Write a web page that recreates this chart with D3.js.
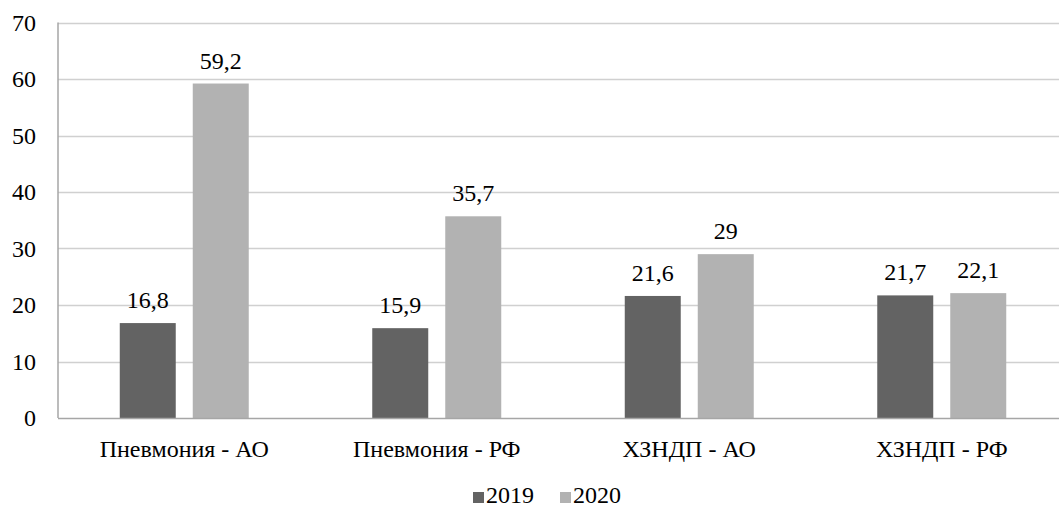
<!DOCTYPE html>
<html><head><meta charset="utf-8">
<script src="https://cdn.jsdelivr.net/npm/d3@7"></script>
<style>body{margin:0;background:#fff}svg{display:block}svg text{font-family:"Liberation Serif","Tinos","Times New Roman",Times !important}</style>
</head><body><svg id="c" width="1059" height="508"></svg>
<script>
const categories = ["Пневмония - АО","Пневмония - РФ","ХЗНДП - АО","ХЗНДП - РФ"];
const seriesNames = ["2019","2020"];
const values2019 = [16.8,15.9,21.6,21.7];
const values2020 = [59.2,35.7,29,22.1];
const yTicks = [0,10,20,30,40,50,60,70];
const colors = ["#636363","#b2b2b2"];

(function(){
const svg = d3.select("#c");
const fs = 24;
const ff = "'Liberation Serif', 'Tinos', 'Times New Roman', Times";
function txt(sel){ return sel.attr("font-family", ff).style("font-family", ff).attr("font-size", fs).attr("fill", "#000"); }
const mLeft = 58, mTop = 22.5, mBottom = 418, mRight = 1068;
const x = d3.scaleBand().domain(categories).range([mLeft, mRight]);
const y = d3.scaleLinear().domain([0,70]).range([mBottom, mTop]);
const x1 = d3.scaleBand().domain(seriesNames).range([0, x.bandwidth()]).paddingInner(0.233).paddingOuter(0.846);

svg.append("g").selectAll("line").data(yTicks.filter(d=>d>0)).join("line")
  .attr("x1", mLeft).attr("x2", 1059).attr("y1", d=>Math.round(y(d))+0.5).attr("y2", d=>Math.round(y(d))+0.5)
  .attr("stroke","#d0d0d0").attr("stroke-width",1.5);

const data = [values2019, values2020];
seriesNames.forEach((s,i)=>{
  const g = svg.append("g");
  g.selectAll("rect").data(categories).join("rect")
    .attr("x", c=>x(c)+x1(s)).attr("width", x1.bandwidth())
    .attr("y", (c,j)=>y(data[i][j])).attr("height",(c,j)=>mBottom-y(data[i][j]))
    .attr("fill", colors[i]);
  txt(g.selectAll("text").data(categories).join("text"))
    .attr("x", c=>x(c)+x1(s)+x1.bandwidth()/2).attr("y",(c,j)=>y(data[i][j])-15)
    .attr("text-anchor","middle")
    .text((c,j)=>String(data[i][j]).replace(".",","));
});

svg.append("line").attr("x1",mLeft).attr("x2",mLeft).attr("y1",mTop).attr("y2",mBottom).attr("stroke","#a6a6a6").attr("stroke-width",1.5);
svg.append("line").attr("x1",mLeft).attr("x2",1059).attr("y1",mBottom+0.5).attr("y2",mBottom+0.5).attr("stroke","#a6a6a6").attr("stroke-width",1.5);

txt(svg.append("g").selectAll("text").data(yTicks).join("text"))
  .attr("x",36).attr("y",d=>y(d)+8).attr("text-anchor","end").text(d=>d);

txt(svg.append("g").selectAll("text").data(categories).join("text"))
  .attr("x",c=>x(c)+x.bandwidth()/2).attr("y",457).attr("text-anchor","middle").text(c=>c);

const leg = svg.append("g");
const legX = [473, 560];
seriesNames.forEach((s,i)=>{
  leg.append("rect").attr("x",legX[i]).attr("y",492).attr("width",11).attr("height",11).attr("fill",colors[i]);
  txt(leg.append("text")).attr("x",legX[i]+13).attr("y",503).text(s);
});
})();
</script></body></html>
